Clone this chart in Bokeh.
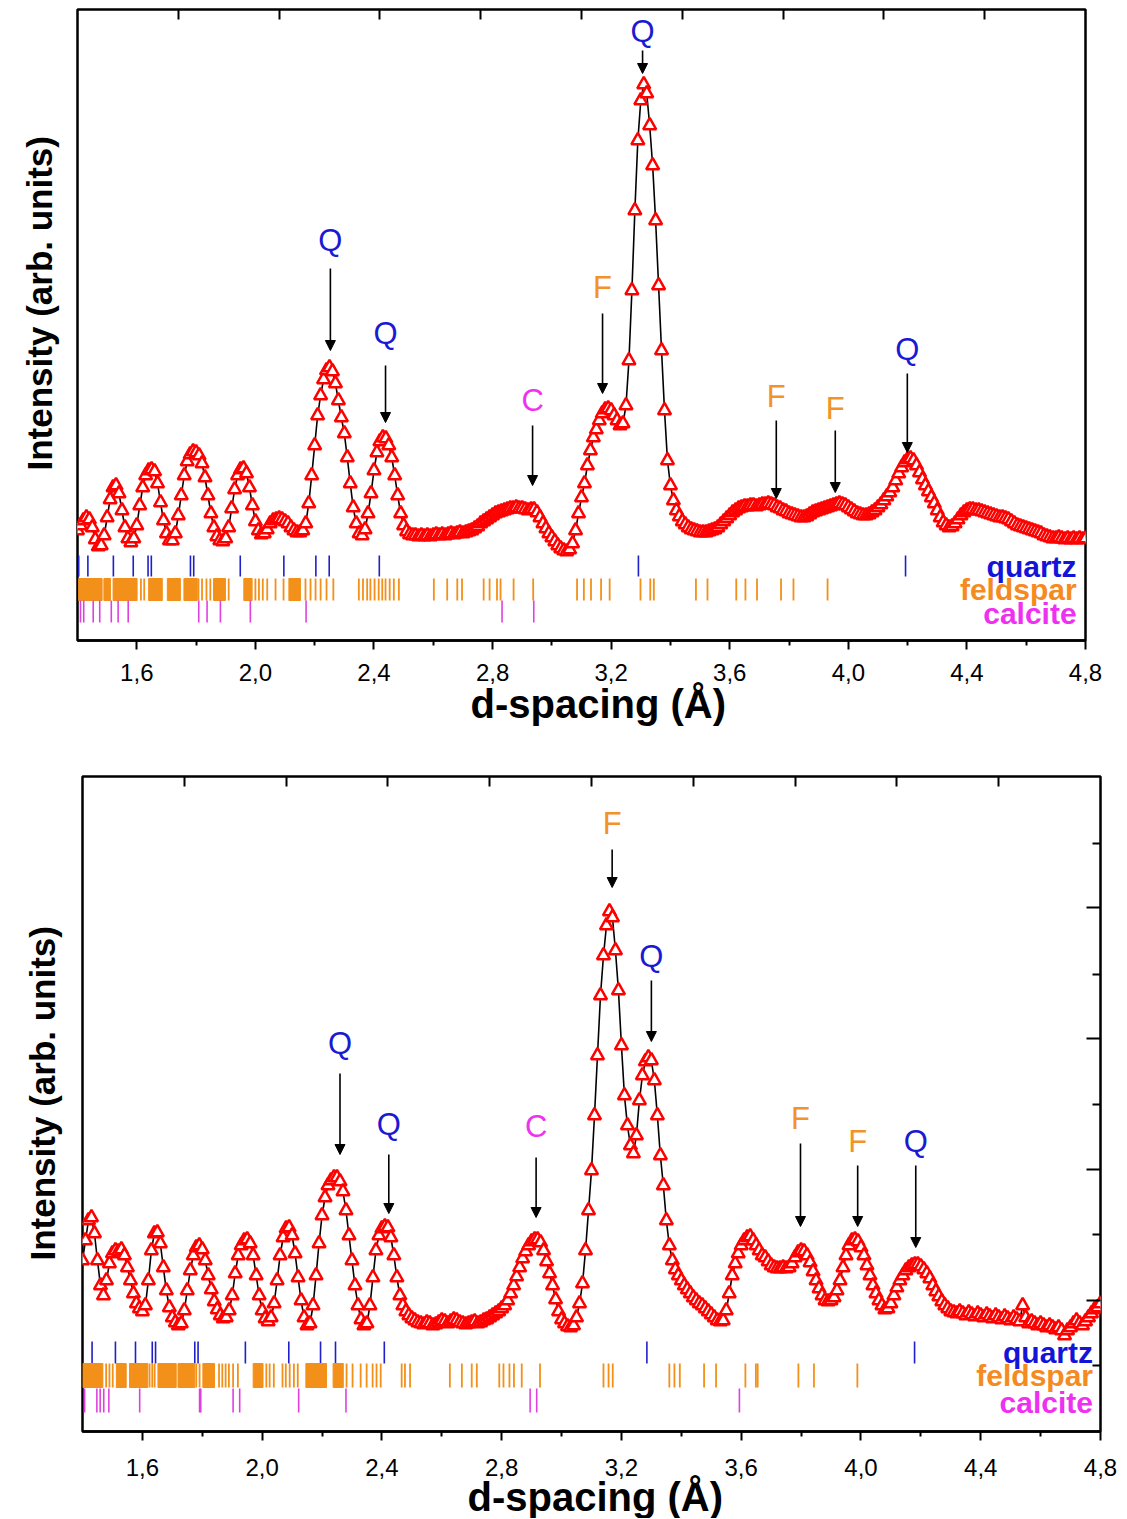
from bokeh.plotting import figure
from bokeh.models import (Range1d, LinearAxis, FixedTicker, CustomJSTickFormatter,
                          Arrow, NormalHead, ColumnDataSource, Title)
from bokeh.embed import file_html
from bokeh.resources import INLINE
from bokeh.core.properties import value
import numpy as np

# ---------------- data ----------------
D_START, D_STEP = 1.40, 0.01

top_intensity = [
    25, 30, 35, 38, 36, 28, 16, 9, 10, 20,
    38, 56, 68, 70, 62, 45, 28, 17, 13, 17,
    30, 50, 68, 80, 85, 86, 84, 72, 53, 35,
    22, 15, 15, 22, 40, 60, 80, 94, 101, 104,
    103, 100, 92, 78, 60, 42, 28, 19, 15, 14,
    17, 28, 47, 66, 80, 86, 87, 82, 68, 50,
    34, 25, 21, 22, 26, 32, 35, 36, 37, 36,
    34, 32, 28, 25, 23, 23, 25, 32, 52, 80,
    110, 140, 160, 176, 185, 188, 184, 172, 155, 138,
    122, 98, 72, 48, 32, 22, 20, 26, 42, 62,
    85, 103, 114, 118, 117, 110, 98, 80, 60, 42,
    30, 24, 21, 20, 20, 19, 20, 19, 20, 19,
    20, 21, 20, 21, 20, 21, 22, 21, 22, 23,
    22, 23, 24, 25, 27, 29, 32, 34, 36, 38,
    40, 42, 43, 44, 45, 46, 47, 47, 48, 47,
    47, 46, 45, 46, 46, 43, 38, 32, 27, 22,
    18, 14, 10, 7, 5, 4, 6, 12, 25, 42,
    58, 72, 90, 105, 118, 126, 135, 142, 146, 147,
    145, 140, 135, 130, 132, 150, 195, 265, 345, 415,
    455, 471, 462, 430, 390, 335, 270, 205, 145, 95,
    70, 55, 45, 39, 34, 31, 28, 26, 25, 24,
    23, 23, 23, 24, 25, 26, 28, 31, 34, 37,
    40, 43, 45, 47, 48, 49, 49, 50, 50, 49,
    50, 51, 51, 52, 51, 50, 48, 47, 45, 44,
    42, 41, 40, 39, 38, 38, 39, 41, 43, 44,
    45, 46, 47, 48, 49, 50, 51, 52, 51, 50,
    48, 46, 44, 42, 41, 40, 40, 41, 43, 45,
    48, 51, 55, 59, 63, 68, 75, 82, 88, 93,
    96, 97, 95, 90, 83, 76, 70, 64, 58, 52,
    45, 38, 33, 30, 28, 29, 32, 36, 40, 43,
    45, 46, 46, 45, 45, 44, 43, 42, 41, 40,
    39, 38, 38, 37, 36, 34, 32, 30, 29, 28,
    27, 26, 25, 24, 23, 22, 20, 19, 18, 17,
    17, 18, 17, 16, 17, 16, 17, 16, 17, 16, 17,
]

bottom_intensity = [
    75, 95, 115, 118, 102, 75, 50, 40, 55, 72,
    82, 85, 84, 86, 80, 68, 55, 42, 32, 27,
    24, 30, 55, 85, 102, 103, 92, 68, 45, 28,
    18, 13, 10, 12, 25, 45, 65, 80, 88, 90,
    86, 75, 60, 46, 34, 26, 20, 17, 18, 25,
    40, 62, 80, 90, 95, 96, 92, 80, 60, 40,
    25, 17, 14, 18, 32, 55, 80, 98, 107, 108,
    100, 82, 58, 35, 18, 10, 12, 30, 60, 92,
    120, 138, 150, 155, 158, 158, 154, 144, 125, 100,
    75, 50, 30, 16, 10, 12, 30, 58, 85, 100,
    107, 109, 108, 98, 80, 58, 40, 30, 24, 20,
    17, 15, 13, 12, 11, 13, 12, 10, 11, 13,
    15, 14, 12, 14, 16, 15, 13, 12, 11, 12,
    13, 14, 12, 13, 15, 16, 18, 20, 22, 24,
    27, 30, 35, 42, 50, 59, 68, 77, 84, 90,
    94, 96, 96, 93, 85, 74, 62, 50, 36, 24,
    16, 12, 9, 8, 10, 18, 32, 52, 85, 125,
    165, 220, 280, 340, 380, 410, 424, 418, 385, 345,
    290, 240, 210, 190, 182, 200, 235, 260, 274, 278,
    275, 255, 220, 180, 150, 115, 90, 75, 66, 60,
    55, 50, 46, 42, 38, 35, 32, 30, 27, 24,
    21, 18, 15, 14, 15, 25, 42, 60, 72, 82,
    90, 95, 98, 99, 95, 90, 85, 80, 78, 74,
    70, 68, 67, 67, 68, 67, 68, 72, 78, 83,
    85, 84, 80, 73, 64, 55, 47, 40, 35, 34,
    35, 38, 45, 55, 68, 80, 90, 95, 96, 94,
    88, 80, 70, 60, 50, 42, 35, 30, 26, 27,
    32, 40, 48, 55, 60, 65, 68, 70, 71, 71,
    69, 66, 62, 57, 50, 44, 39, 34, 30, 27,
    24, 23, 22, 24, 22, 20, 23, 21, 19, 22,
    20, 18, 21, 19, 17, 20, 18, 16, 19, 17,
    15, 18, 16, 14, 30, 18, 12, 14, 12, 10,
    12, 10, 8, 10, 8, 6, 8, 5, 0, 5,
    8, 12, 15, 12, 10, 14, 18, 22, 26, 28, 32,
]

x_major_ticks = [1.6, 2.0, 2.4, 2.8, 3.2, 3.6, 4.0, 4.4, 4.8]
x_minor_ticks = [1.8, 2.2, 2.6, 3.0, 3.4, 3.8, 4.2, 4.6]
x_top_ticks = [1.74, 2.08, 2.42, 2.76, 3.10, 3.44, 3.78, 4.12, 4.46]

# reference reflections (d-spacing, Angstrom)
quartz_top = [1.404, 1.435, 1.521, 1.588, 1.638, 1.649, 1.781, 1.792, 1.949,
              2.096, 2.204, 2.249, 2.418, 3.292, 4.193]
feldspar_top_bands = [(1.404, 1.483), (1.489, 1.511), (1.520, 1.601), (1.640, 1.686),
                      (1.703, 1.747), (1.759, 1.804), (1.859, 1.899), (1.961, 1.989),
                      (2.113, 2.152)]
feldspar_top = [1.614, 1.625, 1.808, 1.820, 1.835, 1.848, 1.910, 2.000, 2.012, 2.025,
                2.040, 2.068, 2.095, 2.169, 2.186, 2.203, 2.220, 2.240, 2.263, 2.349,
                2.363, 2.377, 2.388, 2.402, 2.416, 2.428, 2.439, 2.453, 2.467, 2.484,
                2.602, 2.647, 2.681, 2.697, 2.770, 2.790, 2.815, 2.827, 2.871, 2.937,
                3.085, 3.108, 3.132, 3.166, 3.195, 3.299, 3.332, 3.344, 3.486, 3.525,
                3.622, 3.653, 3.692, 3.773, 3.815, 3.930]
calcite_top = [1.410, 1.421, 1.453, 1.475, 1.514, 1.537, 1.571, 1.809, 1.837, 1.882,
               1.983, 2.171, 2.832, 2.939]

quartz_bottom = [1.432, 1.510, 1.577, 1.633, 1.644, 1.775, 1.786, 1.944, 2.089,
                 2.195, 2.245, 2.408, 3.285, 4.179]
feldspar_bottom_bands = [(1.401, 1.468), (1.513, 1.546), (1.557, 1.618), (1.652, 1.713),
                         (1.719, 1.775), (1.802, 1.841), (1.970, 2.003), (2.146, 2.215),
                         (2.237, 2.271)]
feldspar_bottom = [1.479, 1.490, 1.501, 1.624, 1.633, 1.641, 1.780, 1.791, 1.856, 1.867,
                   1.878, 1.889, 1.903, 1.919, 2.014, 2.025, 2.039, 2.068, 2.079, 2.092,
                   2.106, 2.119, 2.282, 2.302, 2.329, 2.349, 2.369, 2.382, 2.396, 2.466,
                   2.477, 2.494, 2.627, 2.667, 2.700, 2.717, 2.792, 2.806, 2.826, 2.841,
                   2.867, 2.928, 3.140, 3.157, 3.171, 3.360, 3.377, 3.395, 3.476, 3.516,
                   3.614, 3.649, 3.655, 3.791, 3.843, 3.988]
calcite_bottom = [1.407, 1.448, 1.459, 1.471, 1.488, 1.591, 1.791, 1.795, 1.903, 1.925,
                  2.122, 2.280, 2.895, 2.917, 3.594]

# peak annotations: (d, letter, phase, label height, arrow start, arrow tip)
peaks_top = [
    (2.253, "Q", "quartz", 315, 287, 205),
    (2.439, "Q", "quartz", 222, 190, 133),
    (2.935, "C", "calcite", 155, 130, 70),
    (3.171, "F", "feldspar", 268, 242, 162),
    (3.306, "Q", "quartz", 524, 505, 482),
    (3.757, "F", "feldspar", 159, 135, 57),
    (3.956, "F", "feldspar", 147, 125, 63),
    (4.199, "Q", "quartz", 206, 182, 103),
]
peaks_bottom = [
    (2.260, "Q", "quartz", 292, 262, 181),
    (2.423, "Q", "quartz", 211, 181, 122),
    (2.915, "C", "calcite", 209, 178, 118),
    (3.169, "F", "feldspar", 512, 486, 448),
    (3.300, "Q", "quartz", 379, 355, 294),
    (3.798, "F", "feldspar", 217, 192, 109),
    (3.989, "F", "feldspar", 194, 170, 109),
    (4.183, "Q", "quartz", 194, 170, 88),
]

phases = ["quartz", "feldspar", "calcite"]
TICK_COL = {"quartz": "#2020c8", "feldspar": "#f39019", "calcite": "#e040e0"}
LETTER_COL = {"quartz": "#1a1ad2", "feldspar": "#f2922a", "calcite": "#ee33ee"}
NAME_COL = {"quartz": "#1414d8", "feldspar": "#f58a1f", "calcite": "#f030f0"}

FONT = "Liberation Sans"


def build(intensity, y_range, width, height, borders, rows, quartz, fs_bands, fs_lines,
          calcite, peaks, name_x, label_standoff, ylab_offset, ylab_standoff,
          xlab_offset, xlab_standoff, right_ticks=None):
    d = np.round(D_START + D_STEP * np.arange(len(intensity)), 3)
    p = figure(width=width, height=height, x_range=Range1d(1.4, 4.8),
               y_range=Range1d(*y_range), output_backend="svg", toolbar_location=None,
               y_axis_location=None, min_border_left=borders[0], min_border_right=borders[1],
               min_border_top=borders[2], min_border_bottom=borders[3])
    p.grid.visible = False
    p.outline_line_color = "black"
    p.outline_line_width = 2.5
    p.background_fill_color = "white"
    p.border_fill_color = "white"

    ax = p.xaxis[0]
    ax.ticker = FixedTicker(ticks=x_major_ticks, minor_ticks=x_minor_ticks)
    ax.formatter = CustomJSTickFormatter(code="return tick.toFixed(1).replace('.', ',');")
    ax.major_tick_in = 0
    ax.major_tick_out = 9
    ax.minor_tick_in = 0
    ax.minor_tick_out = 5
    ax.major_tick_line_width = 2
    ax.minor_tick_line_width = 2
    ax.axis_line_width = 2.5
    ax.major_label_text_font = FONT
    ax.major_label_text_font_size = "24px"
    ax.major_label_text_color = "black"
    ax.major_label_standoff = label_standoff

    top = LinearAxis(ticker=FixedTicker(ticks=x_top_ticks, minor_ticks=[]),
                     formatter=CustomJSTickFormatter(code="return '';"),
                     major_tick_in=10, major_tick_out=0, minor_tick_in=0, minor_tick_out=0,
                     major_tick_line_width=2, axis_line_color=None,
                     major_label_text_font_size="1px", major_label_standoff=0)
    p.add_layout(top, "above")

    if right_ticks is not None:
        rax = LinearAxis(ticker=FixedTicker(ticks=right_ticks[0], minor_ticks=right_ticks[1]),
                         formatter=CustomJSTickFormatter(code="return '';"),
                         major_tick_in=14, major_tick_out=0, minor_tick_in=8, minor_tick_out=0,
                         major_tick_line_width=2, minor_tick_line_width=2,
                         axis_line_color=None, major_label_text_font_size="1px",
                         major_label_standoff=0)
        p.add_layout(rax, "right")

    # axis titles
    p.add_layout(Title(text="Intensity (arb. units)", align="left", offset=ylab_offset,
                       vertical_align="middle", standoff=ylab_standoff, text_font=FONT,
                       text_font_size="35px", text_font_style="bold", text_color="black"),
                 "left")
    p.add_layout(Title(text="d-spacing (Å)", align="left", offset=xlab_offset,
                       vertical_align="top", standoff=xlab_standoff, text_font=FONT,
                       text_font_size="40px", text_font_style="bold", text_color="black"),
                 "below")

    # reflection markers
    (q0, q1), (f0, f1), (c0, c1) = rows
    p.segment(x0=quartz, y0=[q0] * len(quartz), x1=quartz, y1=[q1] * len(quartz),
              line_color=TICK_COL["quartz"], line_width=1.6)
    p.quad(left=[b[0] for b in fs_bands], right=[b[1] for b in fs_bands],
           bottom=[f0] * len(fs_bands), top=[f1] * len(fs_bands),
           fill_color=TICK_COL["feldspar"], line_color=TICK_COL["feldspar"], line_width=1)
    p.segment(x0=fs_lines, y0=[f0] * len(fs_lines), x1=fs_lines, y1=[f1] * len(fs_lines),
              line_color=TICK_COL["feldspar"], line_width=1.8)
    p.segment(x0=calcite, y0=[c0] * len(calcite), x1=calcite, y1=[c1] * len(calcite),
              line_color=TICK_COL["calcite"], line_width=1.6)

    src = ColumnDataSource(dict(
        x=[name_x] * 3, y=[(q0 + q1) / 2, (f0 + f1) / 2, (c0 + c1) / 2 - 2],
        t=phases, c=[NAME_COL[k] for k in phases]))
    p.text(x="x", y="y", text="t", text_color="c", source=src, text_align="right",
           text_baseline="middle", text_font=value(FONT), text_font_size="30px",
           text_font_style="bold")

    # pattern
    p.line(d, intensity, line_color="black", line_width=1.6)
    p.scatter(d, intensity, marker="triangle", size=13, fill_color="white",
              line_color="#ff0000", line_width=2.5)

    # peak labels + arrows
    for (pd_, letter, ph, ly, a0, a1) in peaks:
        p.add_layout(Arrow(end=NormalHead(size=10, fill_color="black", line_color="black",
                                          line_width=1),
                           x_start=pd_, y_start=a0, x_end=pd_, y_end=a1,
                           line_color="black", line_width=1.6))
    lsrc = ColumnDataSource(dict(x=[k[0] for k in peaks], y=[k[3] for k in peaks],
                                 t=[k[1] for k in peaks],
                                 c=[LETTER_COL[k[2]] for k in peaks]))
    p.text(x="x", y="y", text="t", text_color="c", source=lsrc, text_align="center",
           text_baseline="middle", text_font=value(FONT), text_font_size="31px")
    return p


# top panel: frame 77..1085 x 9..640 ; bottom panel: frame 82..1100 x 776..1431
p1 = build(top_intensity, (-85, 546), 1112, 740, (77, 27, 9, 100),
           ((0, -21), (-23, -45), (-45, -67)),
           quartz_top, feldspar_top_bands, feldspar_top, calcite_top, peaks_top, 4.77,
           14, 170, 35, 393, -4)
p2 = build(bottom_intensity, (-96, 559), 1127, 778, (82, 27, 36, 87),
           ((-6, -28), (-28, -52), (-53, -77)),
           quartz_bottom, feldspar_bottom_bands, feldspar_bottom, calcite_bottom,
           peaks_bottom, 4.775, 18, 171, 40, 385, -8,
           right_ticks=([35, 166, 297, 428], [-30, 101, 231, 361, 492]))

open("out.html", "w").write(file_html([p1, p2], INLINE))
